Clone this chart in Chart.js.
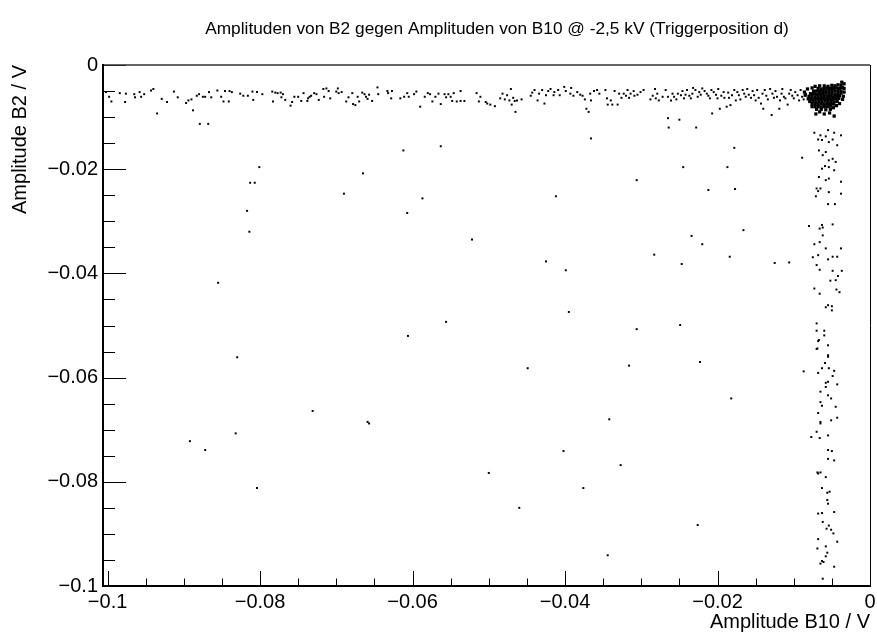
<!DOCTYPE html>
<html lang="de">
<head>
  <meta charset="UTF-8" />
  <title>Amplituden B2 gegen B10</title>
  <script src="https://cdn.jsdelivr.net/npm/chart.js"></script>
  <style>
    html, body { margin: 0; padding: 0; background: #fff; }
    canvas { display: block; }
  </style>
</head>
<body>
  <canvas id="scatter" width="877" height="635"></canvas>

  <script>
    // axis ranges and tick labels
    const X_MIN = -0.1006, X_MAX = 0;
    const Y_MIN = -0.1, Y_MAX = 0;
    const xTickValues = [-0.1, -0.08, -0.06, -0.04, -0.02, 0];
    const xTickLabels = ['\u22120.1', '\u22120.08', '\u22120.06', '\u22120.04', '\u22120.02', '0'];
    const yTickValues = [-0.1, -0.08, -0.06, -0.04, -0.02, 0];
    const yTickLabels = ['\u22120.1', '\u22120.08', '\u22120.06', '\u22120.04', '\u22120.02', '0'];

    // horizontal band just below 0 (B10 fires, B2 only noise)
    const bandPoints = [
      [-0.1002,-0.0052],[-0.0998,-0.0061],[-0.0995,-0.0070],[-0.0984,-0.0054],[-0.0977,-0.0071],[-0.0976,-0.0055],
      [-0.0965,-0.0056],[-0.0964,-0.0062],[-0.0958,-0.0052],[-0.0956,-0.0061],[-0.0952,-0.0056],[-0.0943,-0.0049],
      [-0.0940,-0.0046],[-0.0929,-0.0065],[-0.0922,-0.0071],[-0.0913,-0.0051],[-0.0908,-0.0062],[-0.0897,-0.0073],
      [-0.0894,-0.0068],[-0.0890,-0.0066],[-0.0883,-0.0059],[-0.0880,-0.0056],[-0.0875,-0.0061],[-0.0872,-0.0061],
      [-0.0867,-0.0052],[-0.0864,-0.0062],[-0.0856,-0.0049],[-0.0851,-0.0061],[-0.0848,-0.0070],[-0.0846,-0.0050],
      [-0.0841,-0.0070],[-0.0840,-0.0050],[-0.0837,-0.0052],[-0.0826,-0.0055],[-0.0822,-0.0059],[-0.0816,-0.0059],
      [-0.0810,-0.0051],[-0.0809,-0.0067],[-0.0804,-0.0052],[-0.0797,-0.0056],[-0.0784,-0.0051],[-0.0783,-0.0070],
      [-0.0780,-0.0053],[-0.0777,-0.0054],[-0.0773,-0.0053],[-0.0772,-0.0062],[-0.0770,-0.0056],[-0.0767,-0.0067],
      [-0.0760,-0.0078],[-0.0758,-0.0071],[-0.0755,-0.0061],[-0.0750,-0.0061],[-0.0746,-0.0069],[-0.0743,-0.0054],
      [-0.0738,-0.0069],[-0.0737,-0.0064],[-0.0735,-0.0061],[-0.0733,-0.0059],[-0.0729,-0.0054],[-0.0726,-0.0056],
      [-0.0723,-0.0067],[-0.0717,-0.0046],[-0.0716,-0.0061],[-0.0713,-0.0045],[-0.0710,-0.0050],[-0.0708,-0.0064],
      [-0.0700,-0.0051],[-0.0698,-0.0045],[-0.0697,-0.0054],[-0.0693,-0.0052],[-0.0687,-0.0070],[-0.0684,-0.0062],
      [-0.0679,-0.0054],[-0.0678,-0.0075],[-0.0675,-0.0077],[-0.0672,-0.0061],[-0.0670,-0.0070],[-0.0666,-0.0053],
      [-0.0663,-0.0056],[-0.0661,-0.0061],[-0.0659,-0.0065],[-0.0657,-0.0057],[-0.0653,-0.0069],[-0.0646,-0.0043],
      [-0.0645,-0.0056],[-0.0633,-0.0050],[-0.0632,-0.0054],[-0.0628,-0.0064],[-0.0627,-0.0050],[-0.0616,-0.0064],
      [-0.0611,-0.0061],[-0.0607,-0.0054],[-0.0605,-0.0061],[-0.0598,-0.0056],[-0.0595,-0.0051],[-0.0590,-0.0080],
      [-0.0584,-0.0061],[-0.0580,-0.0054],[-0.0577,-0.0056],[-0.0574,-0.0070],[-0.0570,-0.0061],[-0.0566,-0.0055],
      [-0.0563,-0.0075],[-0.0558,-0.0056],[-0.0556,-0.0062],[-0.0553,-0.0056],[-0.0550,-0.0061],[-0.0548,-0.0069],
      [-0.0546,-0.0054],[-0.0542,-0.0070],[-0.0537,-0.0050],[-0.0537,-0.0069],[-0.0532,-0.0069],[-0.0516,-0.0054],
      [-0.0513,-0.0070],[-0.0511,-0.0061],[-0.0504,-0.0071],
      [-0.0502,-0.0074],[-0.0498,-0.0076],[-0.0492,-0.0079],[-0.0485,-0.0064],[-0.0482,-0.0055],[-0.0479,-0.0066],
      [-0.0476,-0.0058],[-0.0473,-0.0068],[-0.0471,-0.0046],[-0.0470,-0.0076],[-0.0468,-0.0063],[-0.0466,-0.0069],
      [-0.0465,-0.0090],[-0.0463,-0.0068],[-0.0457,-0.0066],[-0.0445,-0.0059],[-0.0443,-0.0053],[-0.0440,-0.0048],
      [-0.0436,-0.0068],[-0.0434,-0.0055],[-0.0430,-0.0048],[-0.0427,-0.0074],[-0.0425,-0.0058],[-0.0422,-0.0050],
      [-0.0419,-0.0046],[-0.0415,-0.0058],[-0.0414,-0.0052],[-0.0409,-0.0048],[-0.0407,-0.0058],[-0.0401,-0.0042],
      [-0.0399,-0.0050],[-0.0393,-0.0055],[-0.0392,-0.0044],[-0.0389,-0.0059],[-0.0384,-0.0052],[-0.0380,-0.0057],
      [-0.0377,-0.0059],[-0.0374,-0.0066],[-0.0372,-0.0084],[-0.0369,-0.0090],[-0.0367,-0.0055],[-0.0366,-0.0068],
      [-0.0362,-0.0050],[-0.0358,-0.0048],[-0.0355,-0.0055],[-0.0347,-0.0048],[-0.0345,-0.0064],[-0.0344,-0.0076],
      [-0.0340,-0.0068],[-0.0338,-0.0076],[-0.0335,-0.0050],[-0.0331,-0.0076],[-0.0329,-0.0055],[-0.0326,-0.0063],
      [-0.0323,-0.0055],[-0.0320,-0.0059],[-0.0318,-0.0048],[-0.0316,-0.0063],[-0.0314,-0.0055],[-0.0310,-0.0050],
      [-0.0309,-0.0059],[-0.0305,-0.0057],[-0.0301,-0.0052],[-0.0297,-0.0048],[-0.0288,-0.0066],[-0.0285,-0.0059],
      [-0.0282,-0.0046],[-0.0281,-0.0064],[-0.0279,-0.0055],[-0.0277,-0.0068],[-0.0272,-0.0061],[-0.0268,-0.0048],
      [-0.0265,-0.0061],[-0.0261,-0.0068],[-0.0259,-0.0055],[-0.0257,-0.0061],[-0.0254,-0.0066],[-0.0252,-0.0055],
      [-0.0248,-0.0058],[-0.0246,-0.0050],[-0.0244,-0.0064],[-0.0242,-0.0057],[-0.0240,-0.0048],[-0.0237,-0.0059],
      [-0.0235,-0.0064],[-0.0233,-0.0055],[-0.0232,-0.0044],[-0.0229,-0.0048],[-0.0226,-0.0061],[-0.0224,-0.0052],
      [-0.0222,-0.0057],[-0.0220,-0.0045],[-0.0217,-0.0050],[-0.0214,-0.0055],[-0.0212,-0.0059],[-0.0210,-0.0064],
      [-0.0208,-0.0048],[-0.0207,-0.0093],[-0.0205,-0.0052],[-0.0202,-0.0057],[-0.0200,-0.0064],[-0.0199,-0.0046],
      [-0.0197,-0.0084],[-0.0195,-0.0059],[-0.0192,-0.0052],[-0.0191,-0.0063],[-0.0188,-0.0080],[-0.0186,-0.0053],
      [-0.0185,-0.0063],[-0.0183,-0.0077],[-0.0181,-0.0058],[-0.0178,-0.0048],[-0.0176,-0.0068],[-0.0174,-0.0052],
      [-0.0172,-0.0058],[-0.0170,-0.0066],[-0.0167,-0.0048],[-0.0165,-0.0055],[-0.0163,-0.0061],[-0.0161,-0.0046],
      [-0.0159,-0.0057],[-0.0156,-0.0063],[-0.0154,-0.0050],[-0.0152,-0.0058],[-0.0150,-0.0068],[-0.0148,-0.0048],
      [-0.0146,-0.0063],[-0.0143,-0.0074],[-0.0141,-0.0055],[-0.0140,-0.0084],[-0.0138,-0.0048],[-0.0136,-0.0059],
      [-0.0134,-0.0066],[-0.0131,-0.0046],[-0.0129,-0.0096],[-0.0128,-0.0055],[-0.0126,-0.0063],[-0.0124,-0.0050],
      [-0.0122,-0.0061],[-0.0119,-0.0084],[-0.0118,-0.0068],[-0.0116,-0.0055],[-0.0115,-0.0046],[-0.0113,-0.0061],
      [-0.0111,-0.0064],[-0.0108,-0.0076],[-0.0106,-0.0055],[-0.0104,-0.0048],[-0.0102,-0.0059],[-0.0100,-0.0064],
      [-0.0098,-0.0052],[-0.0095,-0.0058],[-0.0093,-0.0068],[-0.0091,-0.0048],[-0.0089,-0.0061],[-0.0087,-0.0066],
      [-0.0084,-0.0055]
    ];

    // dense cluster at the top right corner (both channels at noise level)
    const blobPoints = [
      [-0.0060,-0.0040],[-0.0055,-0.0041],[-0.0050,-0.0039],[-0.0046,-0.0040],[-0.0042,-0.0038],[-0.0038,-0.0039],
      [-0.0068,-0.0045],[-0.0064,-0.0046],[-0.0060,-0.0045],[-0.0056,-0.0044],[-0.0052,-0.0045],[-0.0048,-0.0045],
      [-0.0044,-0.0044],[-0.0040,-0.0045],[-0.0036,-0.0043],
      [-0.0074,-0.0050],[-0.0070,-0.0050],[-0.0066,-0.0051],[-0.0062,-0.0050],[-0.0058,-0.0050],[-0.0054,-0.0049],
      [-0.0050,-0.0050],[-0.0046,-0.0050],[-0.0042,-0.0049],[-0.0038,-0.0050],
      [-0.0078,-0.0055],[-0.0074,-0.0055],[-0.0070,-0.0056],[-0.0066,-0.0055],[-0.0062,-0.0055],[-0.0058,-0.0054],
      [-0.0054,-0.0055],[-0.0050,-0.0055],[-0.0046,-0.0056],[-0.0042,-0.0055],[-0.0038,-0.0054],
      [-0.0080,-0.0060],[-0.0076,-0.0060],[-0.0072,-0.0061],[-0.0068,-0.0060],[-0.0064,-0.0060],[-0.0060,-0.0059],
      [-0.0056,-0.0060],[-0.0052,-0.0060],[-0.0048,-0.0061],[-0.0044,-0.0060],[-0.0040,-0.0059],
      [-0.0081,-0.0065],[-0.0077,-0.0065],[-0.0073,-0.0066],[-0.0069,-0.0065],[-0.0065,-0.0065],[-0.0061,-0.0064],
      [-0.0057,-0.0065],[-0.0053,-0.0065],[-0.0049,-0.0066],[-0.0045,-0.0065],[-0.0041,-0.0064],
      [-0.0079,-0.0070],[-0.0075,-0.0070],[-0.0071,-0.0071],[-0.0067,-0.0070],[-0.0063,-0.0070],[-0.0059,-0.0069],
      [-0.0055,-0.0070],[-0.0051,-0.0070],[-0.0047,-0.0071],[-0.0043,-0.0070],
      [-0.0076,-0.0075],[-0.0072,-0.0075],[-0.0068,-0.0076],[-0.0064,-0.0075],[-0.0060,-0.0075],[-0.0056,-0.0074],
      [-0.0052,-0.0075],[-0.0048,-0.0075],
      [-0.0072,-0.0080],[-0.0068,-0.0080],[-0.0064,-0.0081],[-0.0060,-0.0080],[-0.0056,-0.0080],[-0.0052,-0.0079],
      [-0.0070,-0.0085],[-0.0064,-0.0085],[-0.0058,-0.0086],[-0.0052,-0.0085],
      [-0.0034,-0.0036],[-0.0037,-0.0033],[-0.0066,-0.0090],[-0.0060,-0.0094],[-0.0053,-0.0092],[-0.0047,-0.0098],
      [-0.0071,-0.0094],[-0.0085,-0.0058],[-0.0086,-0.0052],[-0.0082,-0.0046],[-0.0076,-0.0044],
      [-0.0040,-0.0074],[-0.0044,-0.0078],[-0.0036,-0.0066],[-0.0035,-0.0060],[-0.0034,-0.0052],[-0.0034,-0.0045],
      [-0.0072,-0.0041],[-0.0066,-0.0040],[-0.0048,-0.0082],[-0.0076,-0.0080]
    ];

    // vertical band just left of 0 (B2 fires, B10 only noise)
    const tailPoints = [
      [-0.0073,-0.0130],[-0.0068,-0.0143],[-0.0065,-0.0135],[-0.0063,-0.0144],[-0.0058,-0.0137],[-0.0054,-0.0148],
      [-0.0049,-0.0143],[-0.0047,-0.0130],[-0.0055,-0.0125],[-0.0038,-0.0135],[-0.0043,-0.0154],[-0.0067,-0.0164],
      [-0.0062,-0.0173],[-0.0058,-0.0167],[-0.0054,-0.0183],[-0.0049,-0.0180],[-0.0045,-0.0186],[-0.0059,-0.0194],
      [-0.0063,-0.0199],[-0.0054,-0.0196],[-0.0047,-0.0202],[-0.0067,-0.0215],[-0.0058,-0.0221],[-0.0054,-0.0218],
      [-0.0065,-0.0237],[-0.0038,-0.0224],[-0.0070,-0.0237],[-0.0068,-0.0242],[-0.0071,-0.0252],[-0.0054,-0.0244],
      [-0.0038,-0.0247],[-0.0055,-0.0267],[-0.0046,-0.0267],[-0.0080,-0.0309],[-0.0063,-0.0307],[-0.0062,-0.0312],
      [-0.0049,-0.0306],[-0.0066,-0.0314],[-0.0062,-0.0327],[-0.0073,-0.0344],[-0.0066,-0.0340],[-0.0058,-0.0352],
      [-0.0038,-0.0352],[-0.0075,-0.0369],[-0.0068,-0.0365],[-0.0055,-0.0373],[-0.0049,-0.0368],[-0.0043,-0.0368],
      [-0.0070,-0.0384],[-0.0066,-0.0393],[-0.0049,-0.0395],[-0.0037,-0.0395],[-0.0052,-0.0414],[-0.0045,-0.0413],
      [-0.0042,-0.0405],[-0.0073,-0.0429],[-0.0044,-0.0431],[-0.0040,-0.0436],[-0.0066,-0.0439],[-0.0058,-0.0465],
      [-0.0055,-0.0461],[-0.0050,-0.0463],[-0.0050,-0.0471],[-0.0070,-0.0496],[-0.0070,-0.0510],[-0.0060,-0.0510],
      [-0.0067,-0.0528],[-0.0060,-0.0519],[-0.0055,-0.0538],[-0.0069,-0.0544],[-0.0055,-0.0557],
      [-0.0068,-0.0530],[-0.0070,-0.0545],[-0.0055,-0.0560],[-0.0059,-0.0572],[-0.0063,-0.0582],[-0.0054,-0.0582],
      [-0.0047,-0.0587],[-0.0087,-0.0588],[-0.0068,-0.0591],[-0.0049,-0.0597],[-0.0058,-0.0610],[-0.0055,-0.0608],
      [-0.0043,-0.0613],[-0.0058,-0.0618],[-0.0065,-0.0627],[-0.0055,-0.0634],[-0.0051,-0.0640],[-0.0065,-0.0647],
      [-0.0063,-0.0654],[-0.0045,-0.0656],[-0.0068,-0.0668],[-0.0043,-0.0677],[-0.0051,-0.0682],[-0.0065,-0.0685],
      [-0.0065,-0.0688],[-0.0070,-0.0704],[-0.0077,-0.0714],[-0.0066,-0.0716],[-0.0055,-0.0711],[-0.0055,-0.0739],
      [-0.0050,-0.0741],[-0.0055,-0.0756],[-0.0047,-0.0759],[-0.0069,-0.0782],[-0.0068,-0.0784],[-0.0065,-0.0782],
      [-0.0058,-0.0791],[-0.0063,-0.0812],[-0.0056,-0.0821],[-0.0053,-0.0819],[-0.0056,-0.0835],[-0.0055,-0.0842],
      [-0.0068,-0.0861],[-0.0063,-0.0860],[-0.0047,-0.0858],[-0.0062,-0.0877],[-0.0054,-0.0884],[-0.0057,-0.0890],
      [-0.0051,-0.0892],[-0.0048,-0.0899],[-0.0068,-0.0910],[-0.0043,-0.0915],[-0.0058,-0.0924],[-0.0069,-0.0928],
      [-0.0056,-0.0936],[-0.0058,-0.0943],[-0.0063,-0.0952],[-0.0065,-0.0957],[-0.0061,-0.0954],[-0.0047,-0.0963],
      [-0.0062,-0.0986]
    ];

    // isolated events spread over the plane
    const scatterPoints = [
      [-0.0935,-0.0093],[-0.0888,-0.0087],[-0.0879,-0.0113],[-0.0868,-0.0113],
      [-0.0265,-0.0102],[-0.0250,-0.0105],[-0.0264,-0.0120],[-0.0228,-0.0120],[-0.0366,-0.0141],[-0.0178,-0.0159],
      [-0.0089,-0.0178],[-0.0612,-0.0164],[-0.0563,-0.0156],[-0.0801,-0.0196],[-0.0665,-0.0208],[-0.0813,-0.0226],
      [-0.0807,-0.0226],[-0.0690,-0.0247],[-0.0587,-0.0256],[-0.0817,-0.0280],[-0.0607,-0.0284],[-0.0814,-0.0320],
      [-0.0522,-0.0335],[-0.0855,-0.0418],[-0.0556,-0.0493],[-0.0606,-0.0520],[-0.0830,-0.0561],
      [-0.0245,-0.0196],[-0.0187,-0.0196],[-0.0306,-0.0221],[-0.0412,-0.0252],[-0.0212,-0.0240],[-0.0177,-0.0238],
      [-0.0166,-0.0317],[-0.0234,-0.0328],[-0.0220,-0.0344],[-0.0283,-0.0364],[-0.0184,-0.0368],[-0.0247,-0.0382],
      [-0.0125,-0.0380],[-0.0106,-0.0379],[-0.0425,-0.0377],[-0.0399,-0.0394],[-0.0395,-0.0474],[-0.0249,-0.0499],
      [-0.0306,-0.0507],[-0.0223,-0.0570],[-0.0449,-0.0582],[-0.0316,-0.0577],[-0.0182,-0.0640],
      [-0.0892,-0.0722],[-0.0872,-0.0739],[-0.0832,-0.0707],[-0.0804,-0.0812],[-0.0731,-0.0664],[-0.0659,-0.0685],
      [-0.0657,-0.0688],[-0.0500,-0.0783],[-0.0342,-0.0680],[-0.0402,-0.0741],[-0.0327,-0.0768],[-0.0376,-0.0812],
      [-0.0460,-0.0850],[-0.0226,-0.0883],[-0.0344,-0.0941]
    ];

    const FONT = 'Liberation Sans, Arial, Helvetica, sans-serif';
    const toXY = list => list.map(p => ({ x: p[0], y: p[1] }));

    function dotSet(list, radius) {
      return {
        data: toXY(list),
        pointStyle: 'rect',
        pointRadius: radius,
        pointBackgroundColor: '#000',
        pointBorderWidth: 0,
        showLine: false
      };
    }

    // ROOT style frame, tick marks inside the frame, title
    const rootFrame = {
      id: 'rootFrame',
      afterDraw(chart) {
        const { ctx, chartArea: a, scales: { x, y } } = chart;
        ctx.save();
        ctx.strokeStyle = '#000';

        ctx.lineWidth = 1;
        for (let i = 0; i <= 20; i++) {
          const v = -0.1 + i * 0.005;
          const px = Math.round(x.getPixelForValue(v)) + 0.5;
          const len = i % 4 === 0 ? 15 : 7.5;
          ctx.beginPath(); ctx.moveTo(px, a.bottom); ctx.lineTo(px, a.bottom - len); ctx.stroke();
          const py = Math.round(y.getPixelForValue(v)) + 0.5;
          const lenY = i % 4 === 0 ? 23 : 12;
          ctx.beginPath(); ctx.moveTo(a.left, py); ctx.lineTo(a.left + lenY, py); ctx.stroke();
        }

        ctx.strokeStyle = '#333';
        ctx.lineWidth = 1.4;
        ctx.beginPath(); ctx.moveTo(a.left, a.top); ctx.lineTo(a.right, a.top); ctx.stroke();
        ctx.strokeStyle = '#000';
        ctx.lineWidth = 1;
        ctx.beginPath(); ctx.moveTo(a.right + 0.5, a.top); ctx.lineTo(a.right + 0.5, a.bottom); ctx.stroke();

        ctx.lineWidth = 2;
        ctx.beginPath(); ctx.moveTo(a.left, a.top - 1); ctx.lineTo(a.left, a.bottom + 1); ctx.stroke();
        ctx.beginPath(); ctx.moveTo(a.left - 1, a.bottom); ctx.lineTo(a.right + 1, a.bottom); ctx.stroke();

        ctx.fillStyle = '#000';
        ctx.font = '17.3px ' + FONT;
        ctx.textAlign = 'center';
        ctx.textBaseline = 'middle';
        ctx.fillText('Amplituden von B2 gegen Amplituden von B10 @ -2,5 kV (Triggerposition d)', 497, 29);
        ctx.restore();
      }
    };

    new Chart(document.getElementById('scatter'), {
      type: 'scatter',
      data: {
        datasets: [
          dotSet(bandPoints, 1.4),
          dotSet(tailPoints, 1.4),
          dotSet(scatterPoints, 1.4),
          dotSet(blobPoints, 2.3)
        ]
      },
      options: {
        responsive: false,
        animation: false,
        events: [],
        layout: { padding: { top: 65, right: 7, left: 0, bottom: 0 } },
        plugins: {
          legend: { display: false },
          tooltip: { enabled: false },
          title: { display: false }
        },
        scales: {
          x: {
            type: 'linear',
            min: X_MIN,
            max: X_MAX,
            afterBuildTicks: s => { s.ticks = xTickValues.map(v => ({ value: v })); },
            afterFit: s => { s.height = 49; s.paddingLeft = 0; s.paddingRight = 0; },
            grid: { display: false, drawTicks: false },
            border: { display: false },
            ticks: {
              autoSkip: false,
              maxRotation: 0,
              padding: 4,
              color: '#000',
              font: { family: FONT, size: 20 },
              callback: (v, i) => xTickLabels[i]
            },
            title: {
              display: true,
              text: 'Amplitude B10 / V',
              align: 'end',
              color: '#000',
              font: { family: FONT, size: 20 },
              padding: { top: 0, bottom: 1 }
            }
          },
          y: {
            type: 'linear',
            min: Y_MIN,
            max: Y_MAX,
            afterBuildTicks: s => { s.ticks = yTickValues.map(v => ({ value: v })); },
            afterFit: s => { s.width = 103; s.paddingTop = 0; s.paddingBottom = 0; },
            grid: { display: false, drawTicks: false },
            border: { display: false },
            ticks: {
              autoSkip: false,
              padding: 5,
              color: '#000',
              font: { family: FONT, size: 20 },
              callback: (v, i) => yTickLabels[i]
            },
            title: {
              display: true,
              text: 'Amplitude B2 / V',
              align: 'end',
              color: '#000',
              font: { family: FONT, size: 20 },
              padding: { top: 8, bottom: 0 }
            }
          }
        }
      },
      plugins: [rootFrame]
    });
  </script>
</body>
</html>
